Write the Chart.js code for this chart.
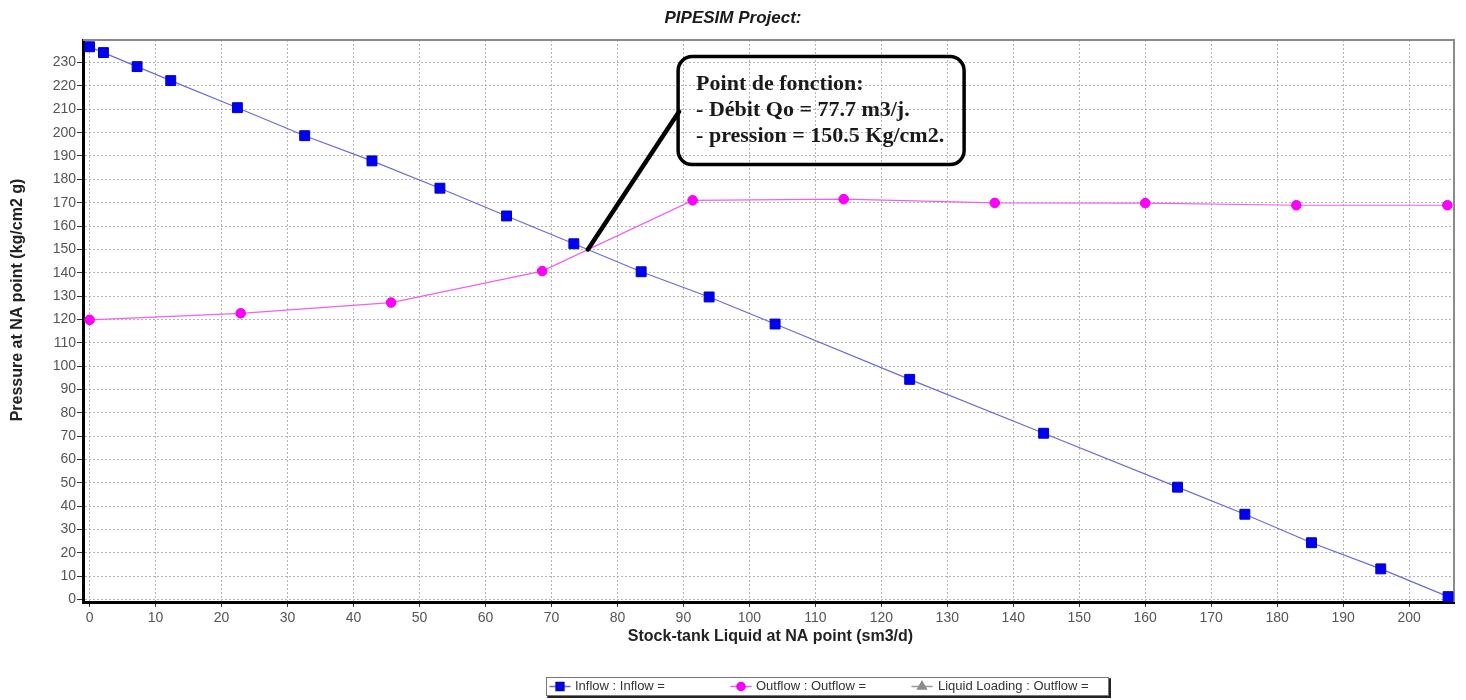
<!DOCTYPE html>
<html>
<head>
<meta charset="utf-8">
<title>PIPESIM Project</title>
<script src="https://cdn.jsdelivr.net/npm/chart.js@4.4.0/dist/chart.umd.min.js"></script>
<style>
  html, body { margin: 0; padding: 0; background: #ffffff; }
  #wrap { width: 1466px; height: 700px; }
</style>
</head>
<body>
<div id="wrap"><canvas id="nodal" width="1466" height="700"></canvas></div>
<script>
// Texts
const chartTitle = 'PIPESIM Project:';
const xAxisTitle = 'Stock-tank Liquid at NA point (sm3/d)';
const yAxisTitle = 'Pressure at NA point (kg/cm2 g)';
const seriesNames = ['Inflow : Inflow =', 'Outflow : Outflow =', 'Liquid Loading : Outflow ='];
const calloutLines = ['Point de fonction:', '- Débit Qo = 77.7 m3/j.', '- pression = 150.5 Kg/cm2.'];

// Inflow (IPR) curve: liquid rate (sm3/d) vs pressure (kg/cm2 g)
const inflowRate = [0, 2.1, 7.2, 12.3, 22.4, 32.6, 42.8, 53.1, 63.2, 73.4, 83.6, 93.9, 103.9, 124.3, 144.6, 164.9, 175.1, 185.2, 195.7, 205.9];
const inflowPressure = [236.8, 234.3, 228.3, 222.3, 210.7, 198.7, 187.9, 176.2, 164.3, 152.4, 140.4, 129.6, 118.0, 94.3, 71.2, 48.1, 36.5, 24.3, 13.1, 1.2];

// Outflow (VLP) curve
const outflowRate = [0, 22.9, 45.7, 68.6, 91.4, 114.3, 137.2, 160.0, 182.9, 205.8];
const outflowPressure = [119.8, 122.6, 127.2, 140.7, 171.0, 171.5, 169.9, 169.8, 168.9, 168.9];

// Liquid loading curve (no points for this case)
const loadingRate = [];
const loadingPressure = [];

// Axis ranges and tick step
const xRange = [-1, 206.8];
const yRange = [-1.1, 239.7];
const tickStep = 10;

const SANS = '"Liberation Sans", Arial, Helvetica, sans-serif';
const SERIF = '"Liberation Serif", "Times New Roman", serif';

function toPoints(xs, ys) { return xs.map((x, i) => ({ x: x, y: ys[i] })); }

// Crossing of two polylines (operating point)
function crossing(ax, ay, bx, by) {
  for (let i = 0; i < ax.length - 1; i++) {
    for (let j = 0; j < bx.length - 1; j++) {
      const x1 = ax[i], y1 = ay[i], x2 = ax[i + 1], y2 = ay[i + 1];
      const x3 = bx[j], y3 = by[j], x4 = bx[j + 1], y4 = by[j + 1];
      const d = (x1 - x2) * (y3 - y4) - (y1 - y2) * (x3 - x4);
      if (d === 0) continue;
      const t = ((x1 - x3) * (y3 - y4) - (y1 - y3) * (x3 - x4)) / d;
      const u = -((x1 - x2) * (y1 - y3) - (y1 - y2) * (x1 - x3)) / d;
      if (t >= 0 && t <= 1 && u >= 0 && u <= 1) {
        return { x: x1 + t * (x2 - x1), y: y1 + t * (y2 - y1) };
      }
    }
  }
  return null;
}
const operatingPoint = crossing(inflowRate, inflowPressure, outflowRate, outflowPressure);

// Frame, titles, callout and boxed legend
const decorations = {
  id: 'decorations',
  beforeDatasetsDraw(chart) {
    const { ctx, chartArea: a } = chart;
    ctx.save();
    ctx.strokeStyle = '#8a8a8a';
    ctx.lineWidth = 2;
    ctx.beginPath();
    ctx.moveTo(a.left, a.top);
    ctx.lineTo(a.right, a.top);
    ctx.lineTo(a.right, a.bottom);
    ctx.stroke();
    ctx.restore();
  },
  afterDraw(chart) {
    const { ctx, chartArea: a, scales } = chart;
    ctx.save();

    // Chart title
    ctx.fillStyle = '#1a1a1a';
    ctx.textAlign = 'center';
    ctx.textBaseline = 'middle';
    ctx.font = 'italic bold 17px ' + SANS;
    ctx.fillText(chartTitle, 733, 18);

    // Axis titles
    ctx.font = 'bold 16px ' + SANS;
    ctx.fillStyle = '#222';
    ctx.fillText(xAxisTitle, (a.left + a.right) / 2 + 2, 637);
    ctx.save();
    ctx.translate(18, 300);
    ctx.rotate(-Math.PI / 2);
    ctx.fillText(yAxisTitle, 0, 0);
    ctx.restore();

    // Operating point callout
    if (operatingPoint) {
      const tipX = scales.x.getPixelForValue(operatingPoint.x);
      const tipY = scales.y.getPixelForValue(operatingPoint.y);
      const bx = scales.x.getPixelForValue(89.2);
      const by = scales.y.getPixelForValue(232.6);
      const bw = 286, bh = 108;
      ctx.strokeStyle = '#000';
      ctx.lineWidth = 4.5;
      ctx.lineCap = 'round';
      ctx.beginPath();
      ctx.moveTo(tipX, tipY);
      ctx.lineTo(bx + 1, by + 55);
      ctx.stroke();
      ctx.lineWidth = 3.5;
      ctx.beginPath();
      ctx.roundRect(bx, by, bw, bh, 14);
      ctx.stroke();
      ctx.fillStyle = '#1a1a1a';
      ctx.textAlign = 'left';
      ctx.textBaseline = 'middle';
      ctx.font = 'bold 22px ' + SERIF;
      calloutLines.forEach((line, i) => ctx.fillText(line, bx + 18, by + 28 + i * 26));
    }

    // Legend box
    const lx = 546, ly = 677, lw = 562, lh = 18;
    ctx.fillStyle = '#fff';
    ctx.fillRect(lx, ly, lw, lh);
    ctx.strokeStyle = '#777';
    ctx.lineWidth = 1;
    ctx.strokeRect(lx + 0.5, ly + 0.5, lw, lh);
    ctx.strokeStyle = '#222';
    ctx.lineWidth = 2;
    ctx.beginPath();
    ctx.moveTo(lx + lw + 2, ly + 2);
    ctx.lineTo(lx + lw + 2, ly + lh + 2);
    ctx.lineTo(lx + 2, ly + lh + 2);
    ctx.stroke();

    const entryX = [560, 741, 922];
    const textX = [575, 756, 938];
    const iconR = [5.5, 4, 5];
    const cy = ly + lh / 2 + 0.5;
    chart.data.datasets.forEach((ds, i) => {
      ctx.strokeStyle = ds.borderColor;
      ctx.lineWidth = 1.5;
      ctx.beginPath();
      ctx.moveTo(entryX[i] - 10, cy);
      ctx.lineTo(entryX[i] + 10, cy);
      ctx.stroke();
      ctx.fillStyle = ds.pointBackgroundColor;
      ctx.strokeStyle = ds.pointBorderColor;
      Chart.helpers.drawPoint(ctx, { pointStyle: ds.pointStyle, rotation: 0, radius: iconR[i], borderWidth: 1 }, entryX[i], cy);
      ctx.fillStyle = '#333';
      ctx.textAlign = 'left';
      ctx.textBaseline = 'middle';
      ctx.font = '13px ' + SANS;
      ctx.fillText(ds.label, textX[i], cy);
    });

    ctx.restore();
  }
};

const gridStyle = {
  color: '#b4b4b4',
  lineWidth: 1,
  tickColor: '#333',
  tickWidth: 1
};

new Chart(document.getElementById('nodal'), {
  type: 'line',
  data: {
    datasets: [
      {
        label: seriesNames[0],
        data: toPoints(inflowRate, inflowPressure),
        borderColor: '#6a6ade',
        borderWidth: 1.2,
        pointStyle: 'rect',
        pointRadius: 7,
        pointBackgroundColor: '#0000f2',
        pointBorderColor: '#0000c0',
        pointBorderWidth: 1,
        tension: 0,
        clip: false
      },
      {
        label: seriesNames[1],
        data: toPoints(outflowRate, outflowPressure),
        borderColor: '#f060f0',
        borderWidth: 1.2,
        pointStyle: 'circle',
        pointRadius: 4.8,
        pointBackgroundColor: '#ff00ff',
        pointBorderColor: '#ee00ee',
        pointBorderWidth: 1,
        tension: 0,
        clip: false
      },
      {
        label: seriesNames[2],
        data: toPoints(loadingRate, loadingPressure),
        borderColor: '#999999',
        borderWidth: 1,
        pointStyle: 'triangle',
        pointRadius: 5,
        pointBackgroundColor: '#8c8c8c',
        pointBorderColor: '#8c8c8c',
        pointBorderWidth: 1
      }
    ]
  },
  options: {
    responsive: false,
    animation: false,
    events: [],
    layout: { padding: { top: 40, right: 12, left: 0, bottom: 0 } },
    plugins: {
      legend: { display: false },
      title: { display: false },
      tooltip: { enabled: false }
    },
    scales: {
      x: {
        type: 'linear',
        min: xRange[0],
        max: xRange[1],
        afterFit(scale) { scale.height = 98; },
        ticks: {
          stepSize: tickStep,
          includeBounds: false,
          autoSkip: false,
          maxRotation: 0,
          padding: 3,
          color: '#555',
          font: { family: SANS, size: 14 }
        },
        grid: Object.assign({ tickLength: 5 }, gridStyle),
        border: { display: true, color: '#000', width: 3, dash: [2, 2] }
      },
      y: {
        type: 'linear',
        min: yRange[0],
        max: yRange[1],
        afterFit(scale) { scale.width = 83; },
        ticks: {
          stepSize: tickStep,
          includeBounds: false,
          autoSkip: false,
          padding: 1,
          color: '#555',
          font: { family: SANS, size: 14 }
        },
        grid: Object.assign({ tickLength: 6 }, gridStyle),
        border: { display: true, color: '#000', width: 3, dash: [2, 2] }
      }
    }
  },
  plugins: [decorations]
});
</script>
</body>
</html>
